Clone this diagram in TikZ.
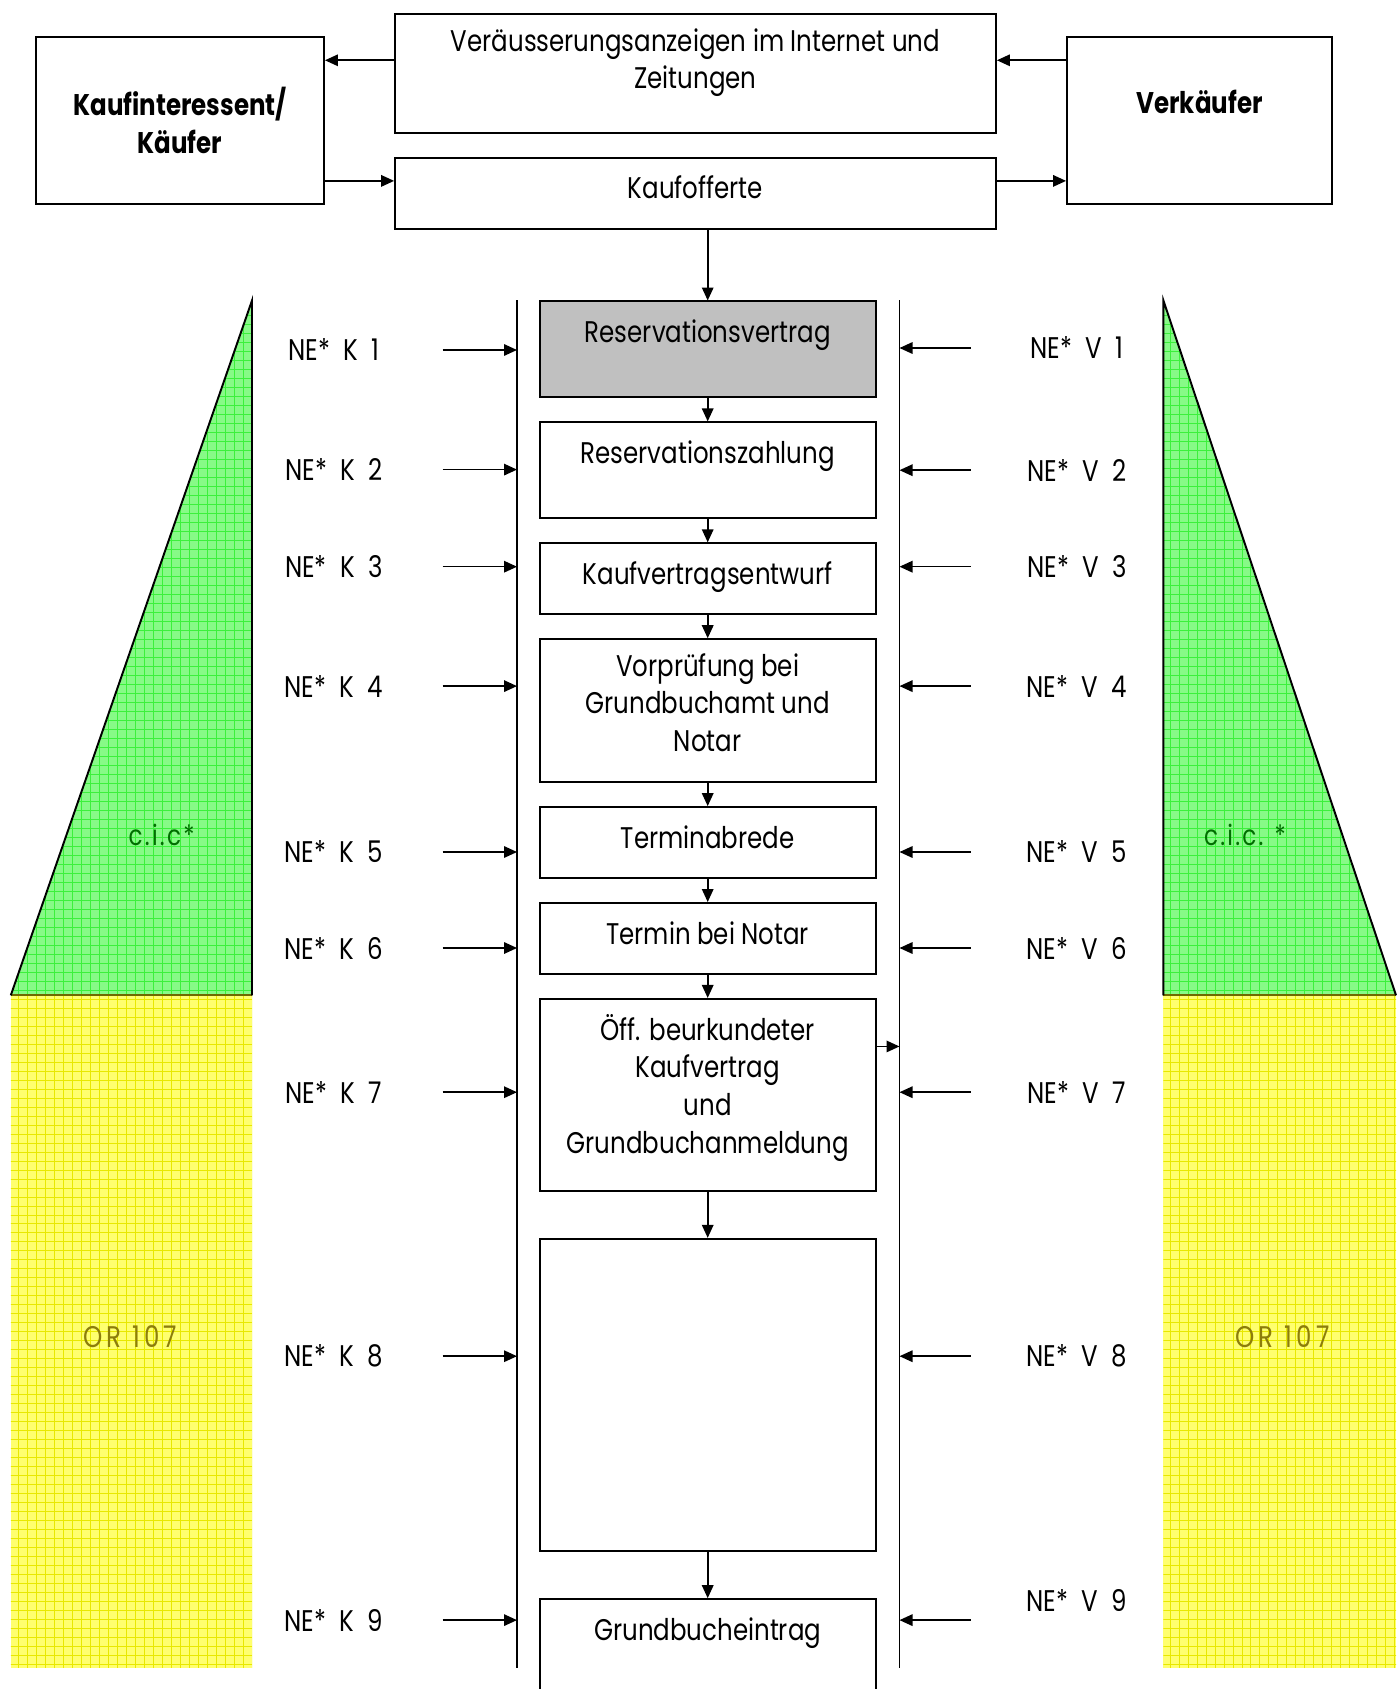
\documentclass[tikz,border=0pt]{standalone}
\usepackage{fontspec}
\setmainfont{Poppins}[FakeStretch=0.82]
\usetikzlibrary{positioning,
    arrows.meta,
    calc}

\definecolor{resgray}{RGB}{192,192,192}
\definecolor{cicfill}{RGB}{135,250,135}
\definecolor{cicgrid}{RGB}{60,240,60}
\definecolor{cictext}{RGB}{0,110,0}
\definecolor{orfill}{RGB}{255,255,110}
\definecolor{orgrid}{RGB}{232,232,0}
\definecolor{ortext}{RGB}{140,125,10}
\definecolor{orline}{RGB}{110,105,0}
\newcommand{\tagfont}{\fontsize{17}{21.4}\selectfont\spaceskip=0.45em\relax}

\begin{document}
\begin{tikzpicture} [x = 0.02cm, y = -0.02cm,
    > = {Triangle[length = 0.26cm, width = 0.23cm]},
    node distance = 0.46cm,
    font = \fontsize{17}{21.4}\selectfont,
    stage/.style = {draw, line width = 1.1pt, minimum width = 6.72cm,
        inner sep = 0.28cm, align = center, text height = 0.54cm,
        text depth = #1},
    block/.style = {draw, line width = 1.1pt, minimum width = 6.72cm,
        inner sep = 0.28cm, align = center, text depth = #1},
    party/.style = {draw, line width = 1.1pt, minimum height = 3.34cm,
        align = center, font = \fontsize{17}{21.4}\selectfont\bfseries},
    tag/.style = {font = \tagfont},
    note/.style = {font = \fontsize{16}{18}\selectfont\addfontfeature{LetterSpace=8}},
    law/.style = {text = ortext, font = \fontsize{17}{20}\selectfont\addfontfeature{LetterSpace=14}},
    flow/.style = {->, line width = 0.9pt},
    lane/.style = {line width = 0.8pt}]
\fill[white] (0,0) rectangle (1396,1689);
\useasboundingbox (0,0) rectangle (1396,1689);

% gruene und gelbe Felder links
\fill[orfill] (10.8,995.3) rectangle (252,1667.5);
\begin{scope}
\clip (10.8,995.3) rectangle (252,1667.5);
\draw[orgrid, step = 0.18cm, line width = 0.25pt] (0,990) grid (260,1670);
\end{scope}
\fill[cicfill] (252,300.5) -- (252,995.3) -- (10.8,995.3) -- cycle;
\begin{scope}
\clip (252,300.5) -- (252,995.3) -- (10.8,995.3) -- cycle;
\draw[cicgrid, step = 0.18cm, line width = 0.25pt] (0,290) grid (260,1000);
\end{scope}
\draw[orline, line width = 1pt] (10.8,995.3) -- (252,995.3);
\draw[line width = 1.1pt] (10.8,995.3) -- (252,300.5) -- (252,995.3);

% gruene und gelbe Felder rechts
\fill[orfill] (1163.4,995.3) rectangle (1396,1667.5);
\begin{scope}
\clip (1163.4,995.3) rectangle (1396,1667.5);
\draw[orgrid, step = 0.18cm, line width = 0.25pt] (1160,990) grid (1400,1670);
\end{scope}
\fill[cicfill] (1163.4,300.5) -- (1163.4,995.3) -- (1396,995.3) -- cycle;
\begin{scope}
\clip (1163.4,300.5) -- (1163.4,995.3) -- (1396,995.3) -- cycle;
\draw[cicgrid, step = 0.18cm, line width = 0.25pt] (1160,290) grid (1400,1000);
\end{scope}
\draw[orline, line width = 1pt] (1163.4,995.3) -- (1396,995.3);
\draw[line width = 1.1pt] (1163.4,995.3) -- (1163.4,300.5) -- (1396,995.3);

\node[note, text = cictext] (cicl) at (161.6,834.8) {c.i.c*};
\node[note, text = cictext] (cicr) at (1245,834.8) {c.i.c. *};
\node[law] (orl) at (130.3,1336.8) {OR 107};
\node[law] (orr) at (1282.4,1336.8) {OR 107};

% obere Reihe
\node[block = 0.6cm, minimum width = 12.02cm, minimum height = 2.38cm, anchor = north] (veraeuss) at (695.5,13)
    {Veräusserungsanzeigen im Internet und\\Zeitungen};
\node[stage = 0.32cm, minimum width = 12.02cm, below = 0.46cm of veraeuss] (offerte) {Kaufofferte};
\node[party, minimum width = 5.76cm] (kaufi) at (180,120.5) {Kaufinteressent/\\Käufer};
\node[party, minimum width = 5.3cm, text height = 0.54cm, text depth = 0.82cm] (verk) at (1199.5,120.5) {Verkäufer};

\coordinate (anz) at ([yshift = -0.946cm]veraeuss.north west);
\draw[flow] (anz) -- (anz -| kaufi.east);
\draw[flow] (anz -| verk.west) -- (anz -| veraeuss.east);
\coordinate (ang) at ([yshift = -0.48cm]offerte.north west);
\draw[flow] (ang -| kaufi.east) -- (ang);
\draw[flow] (ang -| offerte.east) -- (ang -| verk.west);

% Ablauf
\node[stage = 0.82cm, fill = resgray, anchor = north] (resv) at (707.7,300.5) {Reservationsvertrag};
\node[stage = 0.82cm, below = of resv] (zahl) {Reservationszahlung};
\node[stage = 0.32cm, below = of zahl] (entwurf) {Kaufvertragsentwurf};
\node[block = 0.33cm, minimum height = 2.86cm, below = of entwurf] (vorpr) {Vorprüfung bei\\Grundbuchamt und\\Notar};
\node[stage = 0.32cm, below = of vorpr] (abrede) {Terminabrede};
\node[stage = 0.32cm, below = of abrede] (notar) {Termin bei Notar};
\node[block = 0.45cm, minimum height = 3.84cm, below = of notar] (urkunde) {Öff. beurkundeter\\Kaufvertrag\\und\\Grundbuchanmeldung};
\node[stage = 5.15cm, below = 0.92cm of urkunde] (leer) {};
\node[stage = 0.9cm, below = 0.92cm of leer] (eintrag) {Grundbucheintrag};

\draw[flow] (offerte.south -| resv.north) -- (resv.north);
\draw[flow] (resv) -- (zahl);
\draw[flow] (zahl) -- (entwurf);
\draw[flow] (entwurf) -- (vorpr);
\draw[flow] (vorpr) -- (abrede);
\draw[flow] (abrede) -- (notar);
\draw[flow] (notar) -- (urkunde);
\draw[flow] (urkunde) -- (leer);
\draw[flow] (leer) -- (eintrag);

\coordinate (ltop) at (517,300.5);
\coordinate (lbot) at (517,1667.5);
\coordinate (rtop) at (899.5,300.5);
\coordinate (rbot) at (899.5,1667.5);
\draw[lane] (ltop) -- (lbot);
\draw[lane] (rtop) -- (rbot);

\coordinate (uout) at ([yshift = -0.97cm]urkunde.north east);
\draw[flow] (uout) -- (uout -| rtop);

% Kaeufer
\node[tag] (nk1) at (334,350) {NE* K 1};
\node[tag] (nk2) at (334,469.6) {NE* K 2};
\node[tag] (nk3) at (334,566.7) {NE* K 3};
\node[tag] (nk4) at (334,686.1) {NE* K 4};
\node[tag] (nk5) at (334,852) {NE* K 5};
\node[tag] (nk6) at (334,948) {NE* K 6};
\node[tag] (nk7) at (334,1092.2) {NE* K 7};
\node[tag] (nk8) at (334,1356.2) {NE* K 8};
\node[tag] (nk9) at (334,1620.1) {NE* K 9};
\draw[flow] (nk1.center) ++(108.7,0) -- (nk1 -| ltop);
\draw[flow] (nk2.center) ++(108.7,0) -- (nk2 -| ltop);
\draw[flow] (nk3.center) ++(108.7,0) -- (nk3 -| ltop);
\draw[flow] (nk4.center) ++(108.7,0) -- (nk4 -| ltop);
\draw[flow] (nk5.center) ++(108.7,0) -- (nk5 -| ltop);
\draw[flow] (nk6.center) ++(108.7,0) -- (nk6 -| ltop);
\draw[flow] (nk7.center) ++(108.7,0) -- (nk7 -| ltop);
\draw[flow] (nk8.center) ++(108.7,0) -- (nk8 -| ltop);
\draw[flow] (nk9.center) ++(108.7,0) -- (nk9 -| ltop);

% Verkaeufer
\node[tag] (nv1) at (1077,348) {NE* V 1};
\node[tag] (nv2) at (1077,470.2) {NE* V 2};
\node[tag] (nv3) at (1077,566.7) {NE* V 3};
\node[tag] (nv4) at (1077,686.1) {NE* V 4};
\node[tag] (nv5) at (1077,852) {NE* V 5};
\node[tag] (nv6) at (1077,948) {NE* V 6};
\node[tag] (nv7) at (1077,1092.2) {NE* V 7};
\node[tag] (nv8) at (1077,1356.2) {NE* V 8};
\node[tag] (nv9) at (1077,1600.7) {NE* V 9};
\coordinate (av9) at (970.6,1620.1);
\draw[flow] (nv1.center) ++(-106.4,0) -- (nv1 -| rtop);
\draw[flow] (nv2.center) ++(-106.4,0) -- (nv2 -| rtop);
\draw[flow] (nv3.center) ++(-106.4,0) -- (nv3 -| rtop);
\draw[flow] (nv4.center) ++(-106.4,0) -- (nv4 -| rtop);
\draw[flow] (nv5.center) ++(-106.4,0) -- (nv5 -| rtop);
\draw[flow] (nv6.center) ++(-106.4,0) -- (nv6 -| rtop);
\draw[flow] (nv7.center) ++(-106.4,0) -- (nv7 -| rtop);
\draw[flow] (nv8.center) ++(-106.4,0) -- (nv8 -| rtop);
\draw[flow] (av9) -- (av9 -| rtop);
\end{tikzpicture}
\end{document}
